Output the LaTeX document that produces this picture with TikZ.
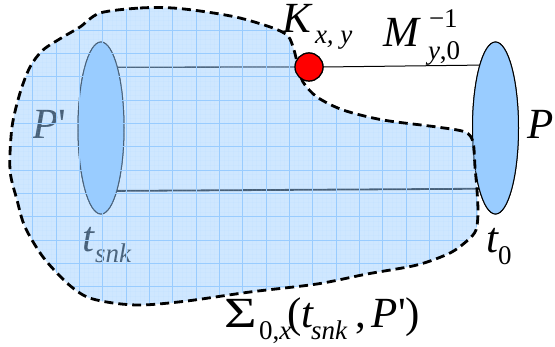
\documentclass[tikz,border=0pt]{standalone}
\usepackage{fontspec}
\setmainfont{Liberation Serif}[ItalicFont={Liberation Serif Italic}]
\usetikzlibrary{shapes.geometric}
\definecolor{pblue}{HTML}{99CCFF}
\definecolor{gridblue}{HTML}{99CCFF}
\newcommand\mainsz{\fontsize{43}{43}\selectfont\rmfamily}
\newcommand\subsz{\fontsize{27}{27}\selectfont\rmfamily}
\tikzset{
  lbl/.style={inner sep=0pt, outer sep=0pt, anchor=base west, font=\mainsz},
  sublbl/.style={inner sep=0pt, outer sep=0pt, anchor=base west, font=\subsz},
  disc/.style={ellipse, fill=pblue, draw=black, line width=1pt, minimum width=46pt, minimum height=172pt, inner sep=0pt, outer sep=0pt},
  dashline/.style={draw=black, line width=2.8pt, dash pattern=on 9pt off 5pt},
  reddot/.style={circle, fill=red, draw=black, line width=1.2pt, minimum size=28pt, inner sep=0pt, outer sep=0pt},
  majorgrid/.style={gridblue, line width=0.8pt},
  minorgrid/.style={gridblue, line width=0.4pt, opacity=0.08},
}
\begin{document}
\begin{tikzpicture}[x=1pt,y=-1pt]
\useasboundingbox (0,0) rectangle (555,347);
% discs and point (named, for the connectors)
\node[disc] (Pp) at (101,128) {};
\node[disc] (P) at (495.5,128) {};
\node[reddot] (K) at (309,67) {};
% connectors
\draw[line width=1.3pt] (Pp.75.1) -- (K.west);
\draw[line width=1pt] (K.east) -- (P.104.9);
\draw[line width=1.8pt] (Pp.284.9) -- (P.255.1);
% redraw discs over line ends
\node[disc] at (101,128) {};
\node[disc] at (495.5,128) {};
% labels under the overlay
\node[lbl] (Plbl) at (32,139) {\itshape P\upshape\textquotesingle};
\node[lbl] (tsnk) at (82,252) {\itshape t};
\node[sublbl] (tsnksub) at (95,263) {\itshape snk};
% blob
\path[save path=\blobp] plot[smooth cycle, tension=0.5] coordinates {
 (100,13) (140,8) (173,8) (207,12) (240,18) (273,28) (288,36) (294,50) (298,66)
 (303,82) (317,97) (343,110) (383,120) (437,127) (465,132) (473,142) (475,167)
 (477,190) (478,213) (476,230) (468,240) (450,253) (417,265) (367,274) (317,284)
 (250,292) (187,301) (143,305) (113,303) (87,297) (67,283) (43,257) (25,227)
 (17,200) (10,170) (12,127) (20,93) (30,67) (43,50) (63,37) (80,27)};
\fill[pblue, opacity=0.47, use path=\blobp];
\begin{scope}
\clip[use path=\blobp];
\foreach \i in {0,...,119} {
  \draw[minorgrid] ({9.333+\i*4.6667},0) -- ({9.333+\i*4.6667},347);
}
\foreach \j in {0,...,74} {
  \draw[minorgrid] (0,{6.667+\j*4.6667}) -- (555,{6.667+\j*4.6667});
}
\foreach \i in {0,...,23} {
  \draw[majorgrid] ({9.333+\i*23.333},0) -- ({9.333+\i*23.333},347);
}
\foreach \j in {0,...,14} {
  \draw[majorgrid] (0,{6.667+\j*23.333}) -- (555,{6.667+\j*23.333});
}
\end{scope}
\path[dashline, use path=\blobp];
% red point on top
\node[reddot] at (309,67) {};
% labels
\node[lbl] (Klbl) at (282,33) {\itshape K};
\node[sublbl] (Ksub) at (315,44) {\itshape x, y};
\node[lbl] (Mlbl) at (383,47) {\itshape M};
\node[sublbl] (Msup) at (429,28) {\symbol{"2212}1};
\node[sublbl] (Msub) at (428,60) {\itshape y\upshape,0};
\node[lbl] (Pr) at (527,139) {\itshape P};
\node[lbl] (t0) at (486,253) {\itshape t};
\node[sublbl] (t0sub) at (498,265) {0};
\node[lbl] (S1) at (224,328) {\scalebox{1.3}[1]{\symbol{"03A3}}};
\node[sublbl] (S2) at (259,340) {0,\itshape x};
\node[lbl] (S3) at (287,328) {(\itshape t};
\node[sublbl] (S4) at (311,340) {\itshape snk};
\node[lbl] (S5) at (355,328) {,\hspace{6pt}\itshape P\upshape\textquotesingle)};
\end{tikzpicture}
\end{document}
